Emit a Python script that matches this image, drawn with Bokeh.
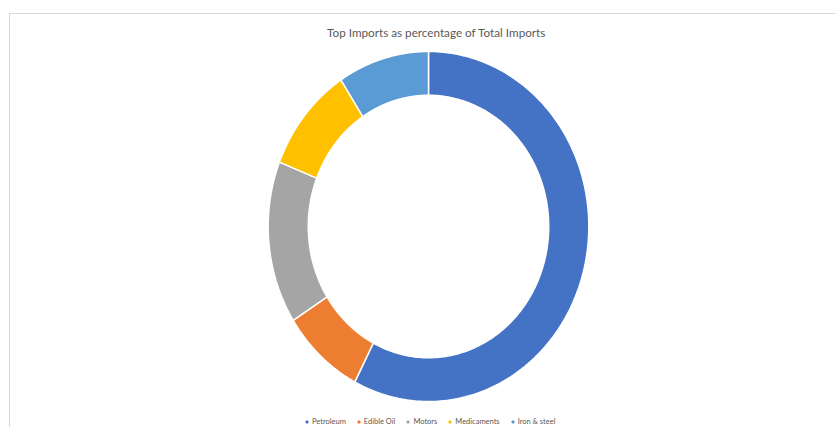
import numpy as np
from bokeh.plotting import figure
from bokeh.models import ColumnDataSource, Legend, LegendItem, Label, Range1d, Span
from bokeh.embed import file_html
from bokeh.resources import INLINE

categories = ["Petroleum", "Edible Oil", "Motors", "Medicaments", "Iron & steel"]
shares = [57.6, 8.4, 15.0, 9.8, 9.2]
colors = ["#4472C4", "#ED7D31", "#A5A5A5", "#FFC000", "#5B9BD5"]
title_text = "Top Imports as percentage of Total Imports"

INNER = 0.75  # hole ratio

vals = np.array(shares, dtype=float)
frac = vals / vals.sum()
ends = np.cumsum(frac)
starts = ends - frac
xs, ys = [], []
for s, e in zip(starts, ends):
    t = np.linspace(s, e, 200)
    ang = np.pi / 2 - 2 * np.pi * t
    ox, oy = np.cos(ang), np.sin(ang)
    xs.append(list(np.concatenate([ox, INNER * ox[::-1]])))
    ys.append(list(np.concatenate([oy, INNER * oy[::-1]])))

src = ColumnDataSource(dict(xs=xs, ys=ys, cat=categories, color=colors))

W, H = 836, 427
FL, FT = 8, 12
cx, cy = 428, 226
rx, ry = 160.3, 175.0
x0, x1 = -(cx - FL) / rx, (W - cx) / rx
y0, y1 = -(H - cy) / ry, (cy - FT) / ry
p = figure(width=W, height=H, output_backend="svg", toolbar_location=None,
           min_border_left=FL, min_border_top=FT, min_border_right=0, min_border_bottom=0,
           x_range=Range1d(x0, x1), y_range=Range1d(y0, y1))
p.axis.visible = False
p.grid.visible = False
p.outline_line_color = None
p.background_fill_color = "white"
p.border_fill_color = "white"

# chart-area border (left and top only are inside the window)
p.add_layout(Span(location=x0 + 1.0 / rx, dimension="height", line_color="#D9D9D9", line_width=1))
p.add_layout(Span(location=y1 - 1.0 / ry, dimension="width", line_color="#D9D9D9", line_width=1))

r = p.patches("xs", "ys", source=src, fill_color="color", line_color="white", line_width=1.5)

# legend-only swatches (no stroke), so the small squares keep their colour
sw = p.scatter(x=[x1 + 10] * len(categories), y=[0] * len(categories), marker="square",
               size=4, color=colors)
items = [LegendItem(label=c, renderers=[sw], index=i) for i, c in enumerate(categories)]
legend = Legend(items=items, orientation="horizontal", location=(304 - FL, 1),
                glyph_width=5, glyph_height=5, label_text_font="Lato",
                label_text_font_size="7.5px", label_text_color="#595959",
                label_height=9, label_standoff=3, spacing=10, padding=0, margin=0,
                border_line_color=None, background_fill_alpha=0)
p.add_layout(legend, "center")

title = Label(x=cx, y=H - 31, x_units="screen", y_units="screen", text=title_text,
              text_align="center", text_baseline="middle", text_font="Lato",
              text_font_size="11.7px", text_color="#595959")
p.add_layout(title)

open("out.html", "w").write(file_html(p, INLINE))
